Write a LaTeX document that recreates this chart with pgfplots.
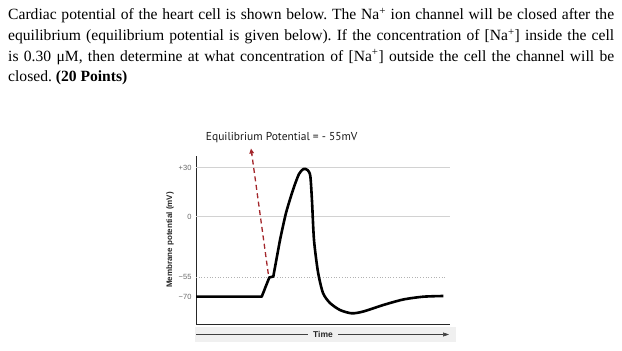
\documentclass[border=0pt]{standalone}
\usepackage{fontspec}
\setmainfont{Liberation Serif}
\newfontfamily\helv{Liberation Sans}
\newfontfamily\titlefont{PT Sans}
\usepackage{pgfplots}
\pgfplotsset{compat=1.18}
\usetikzlibrary{arrows.meta}
\definecolor{darkred}{HTML}{A3262B}
\begin{document}
\frenchspacing
\begin{tikzpicture}[x=1pt,y=1pt]
\path (0,0) rectangle (622,351);
\node[anchor=base west, inner sep=0pt] at (8,331) {\parbox[t]{606pt}{\fontsize{15.6}{20.6}\selectfont
Cardiac potential of the heart cell is shown below. The Na\textsuperscript{+} ion channel will be closed after the\linebreak
equilibrium (equilibrium potential is given below). If the concentration of [Na\textsuperscript{+}] inside the cell\linebreak
is 0.30 μM, then determine at what concentration of [Na\textsuperscript{+}] outside the cell the channel will be\linebreak
closed. \textbf{(20 Points)}}};
\fill[gray!12] (195,9) rectangle (456,23.5);
\begin{axis}[at={(196pt,26pt)}, anchor=south west, scale only axis,
  width=254pt, height=169pt, xmin=196, xmax=450, ymin=26, ymax=195,
  clip=false, axis lines=left, axis line style={-, line width=1pt, black!85},
  xtick=\empty, ytick={54.3,74,134.3,183.5},
  yticklabels={{−70},{−55},{0},{+30}},
  major tick length=0pt,
  tick label style={font=\helv\fontsize{7.5}{8}\selectfont, text=black!60},
  yticklabel style={xshift=-1pt}]
\draw[gray!35, line width=0.9pt] (axis cs:196,183.5) -- (axis cs:450,183.5);
\draw[gray!35, line width=0.9pt] (axis cs:196,134.3) -- (axis cs:450,134.3);
\draw[gray!60, line width=0.7pt, dotted] (axis cs:196,74) -- (axis cs:445,74);
\addplot[black, line width=2.6pt, line join=round] coordinates {
(196,54.3) (261.7,54.3) (269.3,73.5) (273.3,74.5) (280,111)};
\addplot[black, line width=2.6pt, smooth, tension=0.45, line join=round] coordinates {
(280,111) (286,138) (293.3,162) (299,177) (303.5,182) (307.5,181) (310.3,175) (312,150) (314,111) (318,79) (323,58) (330,48) (340,41) (351.7,37.7) (363.3,39.5) (383.3,46) (403.3,51.5) (423.3,54.3) (443.3,55)};
\draw[darkred, line width=1.3pt, dash pattern=on 5pt off 3.5pt] (axis cs:268.3,77) -- (axis cs:251.8,197);
\draw[darkred, -{Triangle[length=5pt,width=4.5pt]}, line width=1.3pt] (axis cs:251.9,196) -- (axis cs:251,202.5);
\end{axis}
\node[font=\titlefont\fontsize{11.5}{13}\selectfont, text=black!90] at (281.7,213.7) {Equilibrium Potential = - 55mV};
\node[rotate=90, font=\helv\bfseries\fontsize{8}{9}\selectfont, text=black!85] at (170,111) {Membrane potential (mV)};
\draw[black!75, line width=0.6pt, -{Triangle[length=6pt,width=4pt]}] (196,16.5) -- (449,16.5);
\node[fill=gray!12, inner xsep=5pt, inner ysep=2pt, font=\helv\bfseries\fontsize{8.5}{9}\selectfont, text=black!85] at (323,16.5) {Time};
\end{tikzpicture}
\end{document}
